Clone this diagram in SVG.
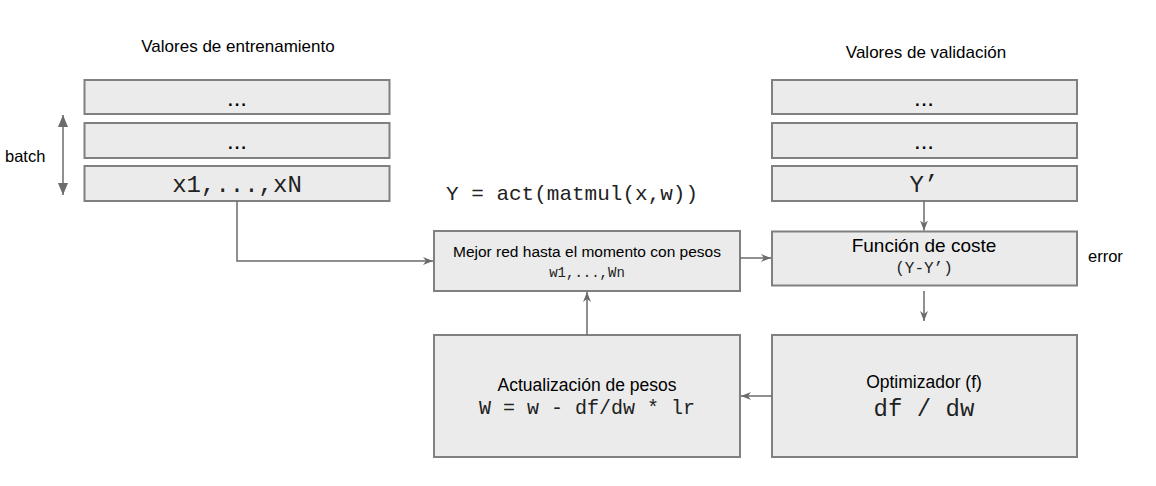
<svg xmlns="http://www.w3.org/2000/svg" width="1156" height="486" viewBox="0 0 1156 486">
<style>
.box{fill:#ebebeb;stroke:#808080;stroke-width:2}
.s{font-family:"Liberation Sans",Arial,sans-serif;fill:#000}
.m{font-family:"Liberation Mono","Courier New",monospace;fill:#222}
.c{text-anchor:middle}
.ln{fill:none;stroke:#6b6b6b;stroke-width:1.5}
</style>
<defs>
<marker id="ar" markerWidth="12" markerHeight="10" refX="10" refY="4" orient="auto" markerUnits="userSpaceOnUse">
<path d="M0,0 L10,4 L0,8 L3,4 Z" fill="#6b6b6b"/>
</marker>
<marker id="big" markerWidth="12" markerHeight="14" refX="12" refY="5" orient="auto-start-reverse" markerUnits="userSpaceOnUse">
<path d="M0,0 L12,5 L0,10 Z" fill="#6b6b6b"/>
</marker>
</defs>
<rect width="1156" height="486" fill="#fff"/>

<text class="s c" x="238" y="52" font-size="17">Valores de entrenamiento</text>
<text class="s c" x="926" y="58" font-size="17">Valores de validación</text>
<text class="s" x="5" y="162" font-size="16.5">batch</text>
<text class="m" x="446" y="200" font-size="21">Y = act(matmul(x,w))</text>
<text class="s" x="1088" y="262" font-size="16.5">error</text>

<g id="train1"><rect class="box" x="84.5" y="80" width="305" height="34"/><text class="s c" x="237" y="106" font-size="24">...</text></g>
<g id="train2"><rect class="box" x="84.5" y="123" width="305" height="35"/><text class="s c" x="237" y="149" font-size="24">...</text></g>
<g id="train3"><rect class="box" x="84.5" y="166" width="305" height="35"/><text class="m c" x="237" y="192" font-size="24">x1,...,xN</text></g>

<g id="val1"><rect class="box" x="772" y="80" width="305" height="34"/><text class="s c" x="924" y="106" font-size="24">...</text></g>
<g id="val2"><rect class="box" x="772" y="123" width="305" height="35"/><text class="s c" x="924" y="149" font-size="24">...</text></g>
<g id="val3"><rect class="box" x="772" y="166" width="305" height="35"/><text class="m c" x="924" y="192" font-size="24">Y’</text></g>

<g id="mejor"><rect class="box" x="434" y="231" width="306" height="60"/>
<text class="s c" x="587" y="257" font-size="15.5">Mejor red hasta el momento con pesos</text>
<text class="m c" x="587" y="277" font-size="14">w1,...,Wn</text></g>

<g id="coste"><rect class="box" x="772" y="231.5" width="305" height="54"/>
<text class="s c" x="924" y="252" font-size="19">Función de coste</text>
<text class="m c" x="924" y="273" font-size="16">(Y-Y’)</text></g>

<g id="actualizacion"><rect class="box" x="434" y="335" width="306" height="122"/>
<text class="s c" x="587" y="391" font-size="17.5">Actualización de pesos</text>
<text class="m c" x="587" y="414" font-size="20">W = w - df/dw * lr</text></g>

<g id="optimizador"><rect class="box" x="772" y="335" width="305" height="122"/>
<text class="s c" x="924" y="388" font-size="17.5">Optimizador (f)</text>
<text class="m c" x="924" y="416" font-size="24">df / dw</text></g>

<g id="connectors">
<path class="ln" d="M63,115 V195" marker-start="url(#big)" marker-end="url(#big)"/>
<path class="ln" d="M237,201 V261 H433" marker-end="url(#ar)"/>
<path class="ln" d="M740,258 H771" marker-end="url(#ar)"/>
<path class="ln" d="M924,201 V230.5" marker-end="url(#ar)"/>
<path class="ln" d="M924,291 V321" marker-end="url(#ar)"/>
<path class="ln" d="M772,396 H741" marker-end="url(#ar)"/>
<path class="ln" d="M587,335 V292" marker-end="url(#ar)"/>
</g>
</svg>
